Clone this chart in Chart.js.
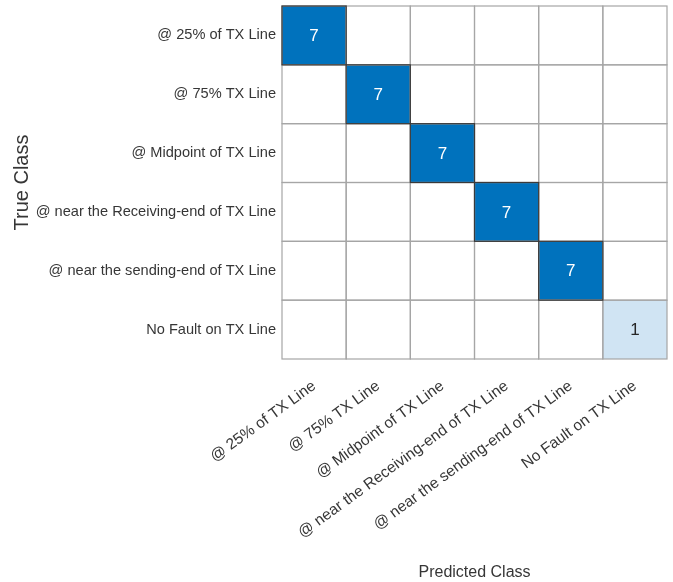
<!DOCTYPE html>
<html>
<head>
<meta charset="utf-8">
<title>Confusion matrix</title>
<script src="https://cdn.jsdelivr.net/npm/chart.js@4.4.1/dist/chart.umd.min.js"></script>
<style>
  html, body { margin: 0; padding: 0; background: #fff; }
  #wrap { width: 673px; height: 582px; }
</style>
</head>
<body>
<div id="wrap"><canvas id="cm"></canvas></div>
<script>
"use strict";
// classes (same order on both axes)
const trueClasses = [
    '@ 25% of TX Line',
    '@ 75% TX Line',
    '@ Midpoint of TX Line',
    '@ near the Receiving-end of TX Line',
    '@ near the sending-end of TX Line',
    'No Fault on TX Line'
];
const predictedClasses = trueClasses.slice();
// counts[row = true class][col = predicted class]
const counts = [
    [7, 0, 0, 0, 0, 0],
    [0, 7, 0, 0, 0, 0],
    [0, 0, 7, 0, 0, 0],
    [0, 0, 0, 7, 0, 0],
    [0, 0, 0, 0, 7, 0],
    [0, 0, 0, 0, 0, 1]
];

const sans = "'Liberation Sans', Arial, Helvetica, sans-serif";
const textColor = '#363636';
const hiColor = [0, 114, 189];
const loColor = [208, 228, 243];

function cellColor(v, max) {
    if (v === 0) return '#ffffff';
    let t = max > 1 ? (v - 1) / (max - 1) : 1;
    let c = loColor.map((lo, k) => Math.round(lo + (hiColor[k] - lo) * t));
    return 'rgb(' + c.join(',') + ')';
}

// draws the cells of the matrix through the category scales
const cellPlugin = {
    id: 'cells',
    beforeDatasetsDraw(chart) {
        let ctx = chart.ctx;
        let xs = chart.scales.x;
        let ys = chart.scales.y;
        let cw = xs.width / predictedClasses.length;
        let ch = ys.height / trueClasses.length;
        let max = Math.max(...counts.flat());
        ctx.save();
        counts.forEach((row, i) => {
            row.forEach((v, j) => {
                let cx = xs.getPixelForValue(j);
                let cy = ys.getPixelForValue(i);
                ctx.fillStyle = cellColor(v, max);
                ctx.fillRect(cx - cw / 2, cy - ch / 2, cw, ch);
            });
        });
        ctx.lineWidth = 1.2;
        ctx.strokeStyle = '#a6a6a6';
        counts.forEach((row, i) => {
            row.forEach((v, j) => {
                let cx = xs.getPixelForValue(j);
                let cy = ys.getPixelForValue(i);
                ctx.strokeRect(cx - cw / 2, cy - ch / 2, cw, ch);
            });
        });
        ctx.strokeStyle = '#3a3a3a';
        counts.forEach((row, i) => {
            row.forEach((v, j) => {
                if (v / max > 0.5) {
                    let cx = xs.getPixelForValue(j);
                    let cy = ys.getPixelForValue(i);
                    ctx.strokeRect(cx - cw / 2, cy - ch / 2, cw, ch);
                }
            });
        });
        ctx.font = '17px ' + sans;
        ctx.textAlign = 'center';
        ctx.textBaseline = 'middle';
        counts.forEach((row, i) => {
            row.forEach((v, j) => {
                if (v === 0) return;
                ctx.fillStyle = v / max > 0.5 ? '#ffffff' : '#262626';
                ctx.fillText(String(v), xs.getPixelForValue(j), ys.getPixelForValue(i) + 1);
            });
        });
        ctx.restore();
    }
};

document.addEventListener("DOMContentLoaded", function () {
    let points = [];
    counts.forEach((row, i) => {
        row.forEach((v, j) => {
            points.push({ x: predictedClasses[j], y: trueClasses[i], v: v });
        });
    });
    let ctx = document.getElementById('cm').getContext('2d');
    new Chart(ctx, {
        type: 'scatter',
        data: {
            datasets: [{
                    label: 'Count',
                    data: points,
                    pointRadius: 0,
                    pointHoverRadius: 0
                }]
        },
        options: {
            responsive: true,
            maintainAspectRatio: false,
            animation: false,
            layout: { padding: { left: 0, right: 6, top: 6, bottom: 0 } },
            plugins: {
                legend: { display: false },
                tooltip: { enabled: false }
            },
            scales: {
                x: {
                    type: 'category',
                    labels: predictedClasses,
                    offset: true,
                    grid: { display: false, tickLength: 0 },
                    border: { display: false },
                    ticks: {
                        minRotation: 36,
                        maxRotation: 36,
                        autoSkip: false,
                        padding: 18,
                        color: textColor,
                        font: { family: sans, size: 15.5 }
                    },
                    title: {
                        display: true,
                        text: 'Predicted Class',
                        color: textColor,
                        font: { family: sans, size: 16 },
                        padding: { top: 0, bottom: 0 }
                    },
                    afterFit: function (scale) {
                        scale.height = 223;
                        scale.paddingLeft = 0;
                        scale.paddingRight = 0;
                    }
                },
                y: {
                    type: 'category',
                    labels: trueClasses,
                    offset: true,
                    grid: { display: false, tickLength: 0 },
                    border: { display: false },
                    ticks: {
                        autoSkip: false,
                        padding: 6,
                        color: textColor,
                        font: { family: sans, size: 14.6 }
                    },
                    title: {
                        display: true,
                        text: 'True Class',
                        color: textColor,
                        font: { family: sans, size: 20 },
                        padding: { top: 10, bottom: 0 }
                    },
                    afterFit: function (scale) {
                        scale.width = 282;
                        scale.paddingTop = 0;
                        scale.paddingBottom = 0;
                    }
                }
            }
        },
        plugins: [cellPlugin]
    });
});
</script>
</body>
</html>
